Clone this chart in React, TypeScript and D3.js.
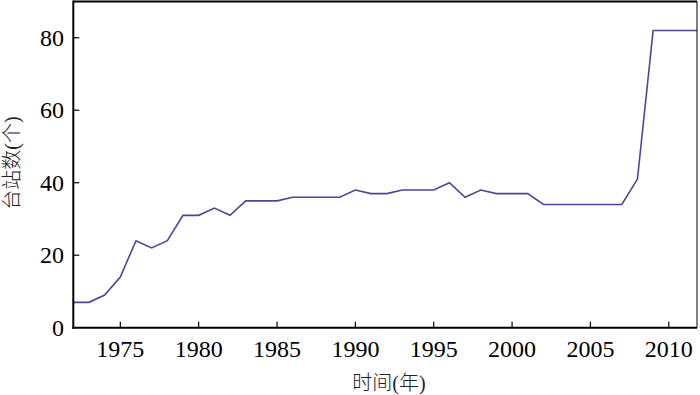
import React from "react";
import * as d3 from "d3";

const years: number[] = [
  1972, 1973, 1974, 1975, 1976, 1977, 1978, 1979, 1980, 1981, 1982, 1983, 1984,
  1985, 1986, 1987, 1988, 1989, 1990, 1991, 1992, 1993, 1994, 1995, 1996, 1997,
  1998, 1999, 2000, 2001, 2002, 2003, 2004, 2005, 2006, 2007, 2008, 2009, 2010,
  2011, 2012,
];
const stations: number[] = [
  7, 7, 9, 14, 24, 22, 24, 31, 31, 33, 31, 35, 35,
  35, 36, 36, 36, 36, 38, 37, 37, 38, 38, 38, 40, 36,
  38, 37, 37, 37, 34, 34, 34, 34, 34, 34, 41, 82, 82,
  82, 82,
];
const xTicks: number[] = [1975, 1980, 1985, 1990, 1995, 2000, 2005, 2010];
const yTicks: number[] = [0, 20, 40, 60, 80];
const xLabel = "时间(年)";
const yLabel = "台站数(个)";

const W = 700;
const H = 395;
const L = 73.3;
const R = 697;
const T = 1.5;
const B = 327.7;

export default function App() {
  const x = d3.scaleLinear().domain([1972, 2011.8]).range([L, R]);
  const y = d3.scaleLinear().domain([0, 90]).range([B, T]);
  const line = d3
    .line<number>()
    .x((_, i) => x(years[i]))
    .y((d) => y(d));
  const font = "'Liberation Serif', 'Times New Roman', Times, serif";
  const cjk = "'Liberation Serif', 'Noto Sans CJK SC', serif";
  return (
    <svg
      width={W}
      height={H}
      style={{ position: "absolute", left: 0, top: 0, background: "#fff" }}
    >
      <defs>
        <clipPath id="plot">
          <rect x={L} y={T} width={R - L} height={B - T} />
        </clipPath>
      </defs>
      <path
        d={line(stations) ?? ""}
        fill="none"
        stroke="#4b4795"
        strokeWidth={1.6}
        clipPath="url(#plot)"
      />
      <line x1={L} x2={R} y1={T} y2={T} stroke="#000" strokeWidth={2} />
      <line x1={R} x2={R} y1={T} y2={B} stroke="#000" strokeWidth={1} />
      <line x1={L} x2={L} y1={T - 1} y2={B + 1} stroke="#000" strokeWidth={2} />
      <line x1={L - 1} x2={R} y1={B} y2={B} stroke="#000" strokeWidth={2} />
      {xTicks.map((t) => (
        <g key={t}>
          <line x1={x(t)} x2={x(t)} y1={B} y2={B - 6} stroke="#000" strokeWidth={1.2} />
          <text
            x={x(t)}
            y={357}
            textAnchor="middle"
            style={{ fontFamily: font, fontSize: 24 }}
            fill="#000"
          >
            {t}
          </text>
        </g>
      ))}
      {yTicks.map((t) => (
        <g key={t}>
          {t !== 0 && (
            <line x1={L} x2={L + 6} y1={y(t)} y2={y(t)} stroke="#000" strokeWidth={1.2} />
          )}
          <text
            x={64}
            y={y(t)}
            dy="0.34em"
            textAnchor="end"
            style={{ fontFamily: font, fontSize: 24 }}
            fill="#000"
          >
            {t}
          </text>
        </g>
      ))}
      <text
        x={389}
        y={390}
        textAnchor="middle"
        style={{ fontFamily: cjk, fontSize: 20, fontWeight: 300 }}
        fill="#222"
      >
        {xLabel}
      </text>
      <text
        transform={`translate(19,163) rotate(-90)`}
        textAnchor="middle"
        style={{ fontFamily: cjk, fontSize: 20, fontWeight: 300 }}
        fill="#222"
      >
        {yLabel}
      </text>
    </svg>
  );
}
